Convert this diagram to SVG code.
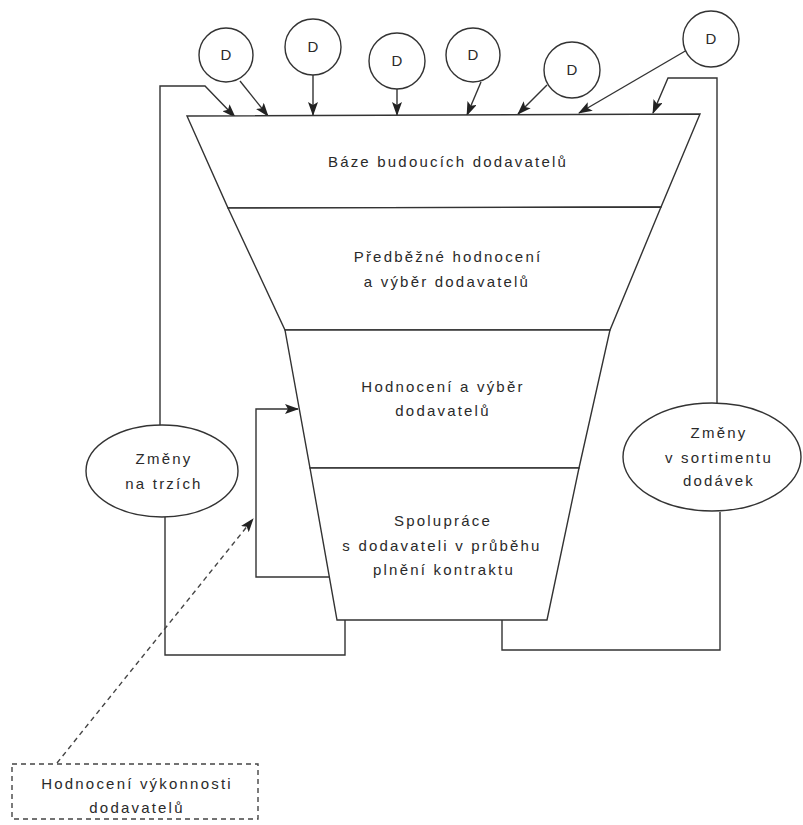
<svg xmlns="http://www.w3.org/2000/svg" width="803" height="825" viewBox="0 0 803 825">
<defs>
<marker id="ah" markerWidth="14" markerHeight="10" refX="13" refY="5" orient="auto" markerUnits="userSpaceOnUse">
<path d="M0,0 L14,5 L0,10 L3,5 Z" fill="#222"/>
</marker>
</defs>
<style>
.ln{fill:none;stroke:#333;stroke-width:1.4}
.dash{fill:none;stroke:#444;stroke-width:1.4;stroke-dasharray:5 4}
.sh{fill:#fff;stroke:#333;stroke-width:1.4}
.t{font-family:"Liberation Sans",Arial,sans-serif;font-size:15px;fill:#2a2a2a;text-anchor:middle;letter-spacing:2.2px}
.d{font-family:"Liberation Sans",Arial,sans-serif;font-size:15px;fill:#2a2a2a;text-anchor:middle}
</style>
<rect width="803" height="825" fill="#fff"/>

<g id="connectors">
<path class="ln" d="M160,425 V86 H205 L235,117" marker-end="url(#ah)"/>
<path class="ln" d="M165,517 V655 H345 V620"/>
<path class="ln" d="M717,403 V78 H668 L653,113" marker-end="url(#ah)"/>
<path class="ln" d="M720,512 V650 H502 V620"/>
<path class="ln" d="M329,577 H256 V409 H298" marker-end="url(#ah)"/>
<path class="dash" d="M57,763 L253,519" marker-end="url(#ah)"/>
<path class="ln" d="M240,81 L268,116" marker-end="url(#ah)"/>
<path class="ln" d="M313,75 V115" marker-end="url(#ah)"/>
<path class="ln" d="M397,89 V115" marker-end="url(#ah)"/>
<path class="ln" d="M481,82 L467,115" marker-end="url(#ah)"/>
<path class="ln" d="M547,85 L518,114" marker-end="url(#ah)"/>
<path class="ln" d="M687,50 L579,113" marker-end="url(#ah)"/>
</g>

<g id="section1">
<polygon class="sh" points="187,116 700,114 661,207 228,208"/>
<text class="t" x="448" y="167">Báze budoucích dodavatelů</text>
</g>
<g id="section2">
<polygon class="sh" points="228,208 661,207 610,330 285,330"/>
<text class="t" x="448" y="262">Předběžné hodnocení</text>
<text class="t" x="447" y="287">a výběr dodavatelů</text>
</g>
<g id="section3">
<polygon class="sh" points="285,330 610,330 579,468 310,468"/>
<text class="t" x="443" y="392">Hodnocení a výběr</text>
<text class="t" x="443" y="416">dodavatelů</text>
</g>
<g id="section4">
<polygon class="sh" points="310,468 579,468 547,620 337,620"/>
<text class="t" x="443" y="526">Spolupráce</text>
<text class="t" x="442" y="551">s dodavateli v průběhu</text>
<text class="t" x="444" y="575">plnění kontraktu</text>
</g>

<g id="zmeny-trh">
<ellipse class="sh" cx="162" cy="471" rx="76" ry="46"/>
<text class="t" x="164" y="464">Změny</text>
<text class="t" x="164" y="489">na trzích</text>
</g>
<g id="zmeny-sortiment">
<ellipse class="sh" cx="712" cy="457" rx="89" ry="54"/>
<text class="t" x="719" y="438">Změny</text>
<text class="t" x="719" y="463">v sortimentu</text>
<text class="t" x="719" y="486">dodávek</text>
</g>
<g id="hodnoceni-vykonnosti">
<rect class="dash" x="12" y="764" width="246" height="55"/>
<text class="t" x="137" y="789">Hodnocení výkonnosti</text>
<text class="t" x="137" y="813">dodavatelů</text>
</g>

<g id="D1"><circle class="sh" cx="226" cy="55" r="27"/><text class="d" x="226" y="60">D</text></g>
<g id="D2"><circle class="sh" cx="313" cy="47" r="28"/><text class="d" x="313" y="52">D</text></g>
<g id="D3"><circle class="sh" cx="397" cy="61" r="28"/><text class="d" x="397" y="66">D</text></g>
<g id="D4"><circle class="sh" cx="473" cy="55" r="27"/><text class="d" x="473" y="60">D</text></g>
<g id="D5"><circle class="sh" cx="572" cy="70" r="28"/><text class="d" x="572" y="75">D</text></g>
<g id="D6"><circle class="sh" cx="711" cy="39" r="28"/><text class="d" x="711" y="44">D</text></g>
</svg>
